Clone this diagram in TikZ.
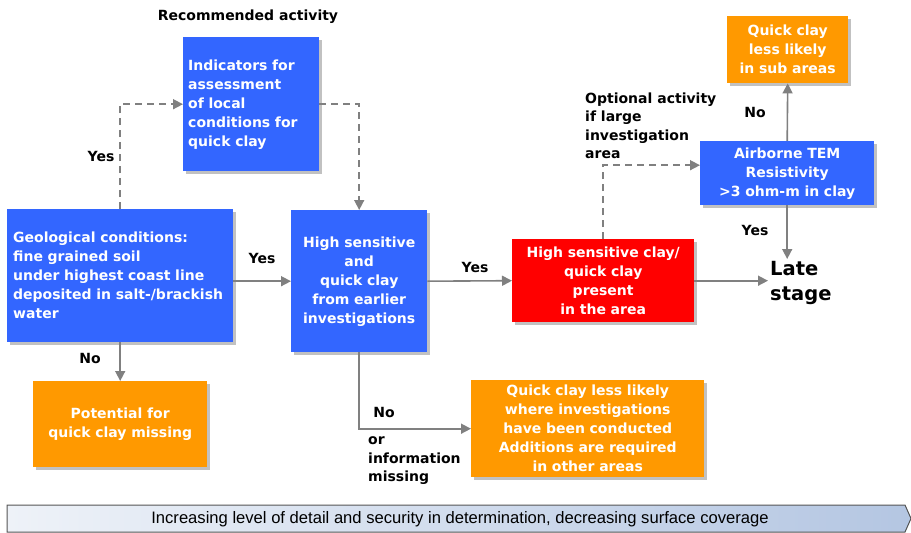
\documentclass[tikz,border=0pt]{standalone}
\usepackage{fontspec}
\setmainfont{DejaVu Sans}
\newfontfamily\barfont{Liberation Sans}
\usetikzlibrary{shadows,arrows.meta,calc}
\definecolor{myblue}{HTML}{3366FF}
\definecolor{myred}{HTML}{FF0000}
\definecolor{myorange}{HTML}{FF9900}
\definecolor{arrgray}{HTML}{808080}
\definecolor{barleft}{HTML}{EEF2F8}
\definecolor{barright}{HTML}{B4C6E2}
\definecolor{barborder}{HTML}{555555}
\begin{document}
\begin{tikzpicture}[x=1pt,y=-1pt,
  box/.style={draw=none, anchor=north west, inner xsep=5pt, inner ysep=0pt,
    font=\bfseries\fontsize{14}{19}\selectfont, text=white,
    drop shadow={shadow xshift=2.5pt, shadow yshift=-2.5pt, opacity=0.35, fill=black!70}},
  bluebox/.style={box, fill=myblue},
  redbox/.style={box, fill=myred},
  orangebox/.style={box, fill=myorange},
  con/.style={draw=arrgray, line width=1.6pt, -{Triangle[length=10pt,width=10pt]}},
  dcon/.style={con, dash pattern=on 7pt off 5pt},
  lbl/.style={font=\bfseries\fontsize{14}{18.5}\selectfont, text=black, inner sep=0pt},
]
\useasboundingbox (0,0) rectangle (911,533);

% boxes
\node[bluebox, text width=126pt, minimum height=134pt, align=left] (ind) at (183,37)
  {Indicators for\\assessment\\of local\\conditions for\\quick clay};
\node[bluebox, text width=214pt, inner xsep=6pt, minimum height=133pt, align=left] (geo) at (7,209)
  {Geological conditions:\\fine grained soil\\under highest coast line\\deposited in salt-/brackish\\water};
\node[bluebox, text width=126pt, minimum height=142pt, align=center] (hs) at (291,210)
  {High sensitive\\and\\quick clay\\from earlier\\investigations};
\node[orangebox, text width=164pt, minimum height=86pt, align=center] (pot) at (33,381)
  {Potential for\\quick clay missing};
\node[redbox, text width=172pt, minimum height=83pt, align=center] (red) at (512,239)
  {High sensitive clay/\\quick clay\\present\\in the area};
\node[bluebox, text width=164pt, minimum height=64pt, align=center] (air) at (700,141)
  {Airborne TEM\\Resistivity\\>3 ohm-m in clay};
\node[orangebox, text width=111pt, minimum height=67pt, align=center] (sub) at (727,16)
  {Quick clay\\less likely\\in sub areas};
\node[orangebox, text width=223pt, minimum height=97pt, align=center] (inv) at (471,380)
  {Quick clay less likely\\where investigations\\have been conducted\\Additions are required\\in other areas};
\node[anchor=north west, inner sep=2pt, align=left, font=\bfseries\fontsize{19.5}{25}\selectfont] (late) at (768,259)
  {Late\\stage};

% bottom bar
\shade[left color=barleft, right color=barright, draw=barborder, line width=1pt]
  (7,505) -- (905,505) -- (911,518.5) -- (905,532) -- (7,532) -- cycle;
\node[font=\barfont\fontsize{16.6}{18}\selectfont, inner sep=0pt] (bar) at (460,519)
  {Increasing level of detail and security in determination, decreasing surface coverage};

% connectors
\draw[dcon] (geo.north) |- (ind.west);
\draw[dcon] (ind.east) -| (hs.north);
\draw[con] (hs.west -| geo.east) -- (hs.west);
\draw[con] (hs.east) -- (red.west);
\draw[con] (red.east) -- (red.east -| late.west);
\draw[dcon] (red.north) |- ($(air.west)+(0,-8)$);
\draw[con] (air.north) -- (sub.south);
\draw[con] (air.south) -- (air.south |- late.north);
\draw[con] (geo.south) -- (pot.north);
\draw[con] (hs.south) |- (inv.west);

% labels
\node[lbl] (lrec) at (248,17) {Recommended activity};
\node[lbl] (ly1) at (101,156) {Yes};
\node[lbl] (ly2) at (262,258) {Yes};
\node[lbl] (ly3) at (475,267) {Yes};
\node[lbl] (ln1) at (90,358) {No};
\node[lbl] (ln2) at (384,412) {No};
\node[lbl, anchor=west, align=left] (lor) at (368,461) {or\\information\\missing};
\node[lbl, anchor=west, align=left] (lopt) at (585,126) {Optional activity\\if large\\investigation\\area};
\node[lbl] (ln3) at (755,112) {No};
\node[lbl] (ly4) at (755,230) {Yes};
\end{tikzpicture}
\end{document}
